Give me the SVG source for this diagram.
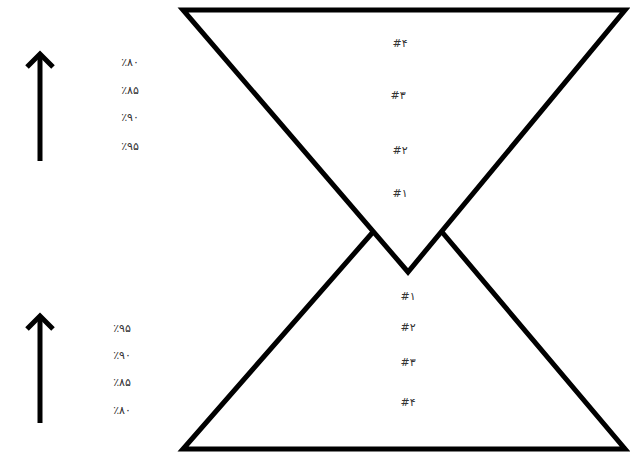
<svg xmlns="http://www.w3.org/2000/svg" width="630" height="455" viewBox="0 0 630 455">
<style>
.ln{fill:none;stroke:#000;stroke-width:5;stroke-linejoin:miter;stroke-linecap:butt}
.ar{fill:none;stroke:#000;stroke-width:5}
.ah{fill:none;stroke:#000;stroke-width:5;stroke-linejoin:miter}
.t{font-family:"DejaVu Sans","Noto Sans",sans-serif;font-size:11px;fill:#333;text-anchor:middle;direction:ltr;unicode-bidi:bidi-override}
</style>
<rect width="630" height="455" fill="#fff"/>
<g id="connectors">
<path class="ln" d="M183,10 L625,10 L408,272 Z"/>
<path class="ln" d="M373,232 L183,449 L625,449 L442,232"/>
<line class="ar" x1="40" y1="161" x2="40" y2="54"/>
<path class="ah" d="M27,67 L40,54 L53,67"/>
<line class="ar" x1="40" y1="423" x2="40" y2="316"/>
<path class="ah" d="M27,329 L40,316 L53,329"/>
</g>
<g id="top-percent">
<text class="t" x="130" y="66">٪۸۰</text>
<text class="t" x="130" y="94">٪۸۵</text>
<text class="t" x="130" y="121">٪۹۰</text>
<text class="t" x="130" y="150">٪۹۵</text>
</g>
<g id="bottom-percent">
<text class="t" x="122" y="332">٪۹۵</text>
<text class="t" x="122" y="359">٪۹۰</text>
<text class="t" x="122" y="386">٪۸۵</text>
<text class="t" x="122" y="414">٪۸۰</text>
</g>
<g id="top-levels">
<text class="t" x="400" y="47">#۴</text>
<text class="t" x="398" y="99">#۳</text>
<text class="t" x="400" y="154">#۲</text>
<text class="t" x="400" y="197">#۱</text>
</g>
<g id="bottom-levels">
<text class="t" x="408" y="300">#۱</text>
<text class="t" x="408" y="331">#۲</text>
<text class="t" x="408" y="366">#۳</text>
<text class="t" x="408" y="406">#۴</text>
</g>
</svg>
